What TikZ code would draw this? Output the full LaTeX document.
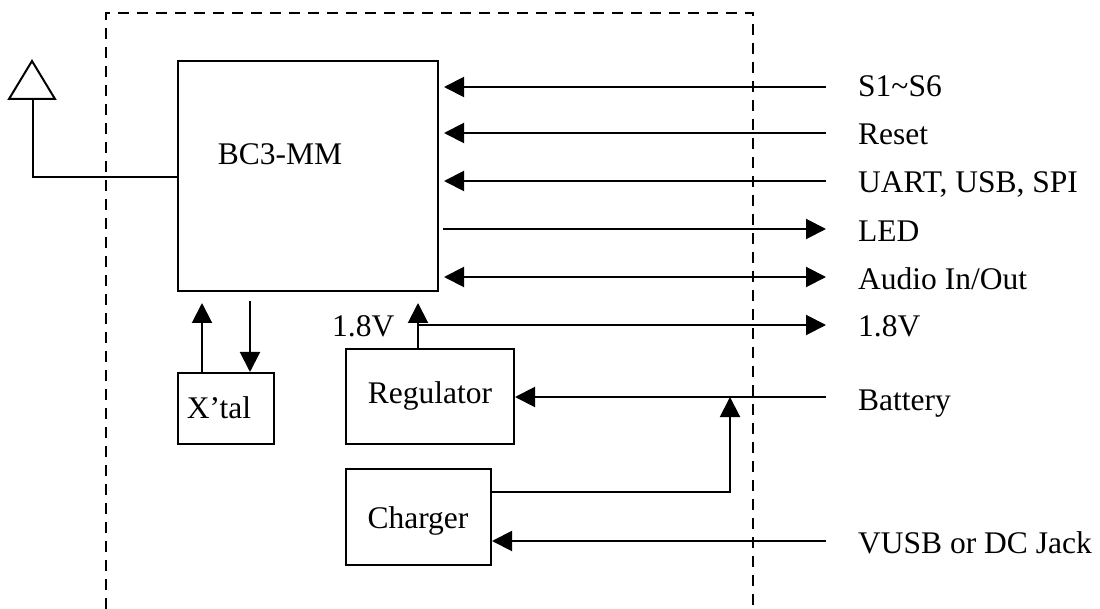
\documentclass[tikz,border=0pt]{standalone}
\usepackage{fontspec}
\setmainfont{Liberation Serif}
\usetikzlibrary{arrows.meta}
\begin{document}
\begin{tikzpicture}[x=1pt,y=-1pt,
  ln/.style={line width=2pt},
  arr/.style={ln,-{Triangle[length=20pt,width=20pt]}},
  barr/.style={ln,{Triangle[length=20pt,width=20pt]}-{Triangle[length=20pt,width=20pt]}},
  blk/.style={draw,ln,inner sep=0pt,minimum width=#1},
  txt/.style={inner sep=0pt,font=\fontsize{31.5}{36}\selectfont},
  dashline/.style={line width=2.6pt,dash pattern=on 11pt off 8pt}]
\useasboundingbox (0,0) rectangle (1100,609);
% dashed module outline
\draw[dashline] (106,609) -- (106,13) -- (753,13) -- (753,609);
% blocks
\node[blk=260pt,minimum height=230pt] (bc3) at (308,176) {};
\node[blk=96pt,minimum height=71pt] (xtal) at (226,408.5) {};
\node[blk=168pt,minimum height=95pt] (reg) at (430,396.5) {};
\node[blk=145pt,minimum height=96pt] (chg) at (418.5,517) {};
% block texts
\node[txt,anchor=base] (bc3t) at (280,165) {BC3-MM};
\node[txt,anchor=base] (xtalt) at (219,418) {X’tal};
\node[txt,anchor=base] (regt) at (430,403) {Regulator};
\node[txt,anchor=base] (chgt) at (418,528) {Charger};
\node[txt,anchor=base west] (v18in) at (332,337) {1.8V};
% right labels
\node[txt,anchor=base west] (l1) at (858,97) {S1\char"007E S6};
\node[txt,anchor=base west] (l2) at (858,145) {Reset};
\node[txt,anchor=base west] (l3) at (858,193) {UART, USB, SPI};
\node[txt,anchor=base west] (l4) at (858,241.5) {LED};
\node[txt,anchor=base west] (l5) at (858,290) {Audio In/Out};
\node[txt,anchor=base west] (l6) at (858,337) {1.8V};
\node[txt,anchor=base west] (l7) at (858,410) {Battery};
\node[txt,anchor=base west] (l8) at (858,553) {VUSB or DC Jack};
% line ends
\coordinate (e1) at (826,87);
\coordinate (e2) at (826,133);
\coordinate (e3) at (826,181);
\coordinate (e4) at (826,229);
\coordinate (e5) at (826,277);
\coordinate (e6) at (826,325);
\coordinate (e7) at (826,397);
\coordinate (e8) at (826,541);
\coordinate (v18) at (418,325);
\coordinate (junc) at (730,397);
\coordinate (cy) at (0,492);
\coordinate (xu) at (202,0);
\coordinate (xd) at (250,0);
% antenna
\coordinate (antA) at (32,61);
\coordinate (antL) at (9,99);
\coordinate (antR) at (55,99);
\coordinate (antB) at (33,100);
\coordinate (antC) at (33,177);
\draw[ln] (antL) -- (antA) -- (antR) -- cycle;
\draw[ln] (antB) -- (antC) -- (antC -| bc3.west);
% signal arrows
\draw[arr,shorten >=5pt] (e1) -- (e1 -| bc3.east);
\draw[arr,shorten >=5pt] (e2) -- (e2 -| bc3.east);
\draw[arr,shorten >=5pt] (e3) -- (e3 -| bc3.east);
\draw[arr,shorten <=4pt] (e4 -| bc3.east) -- (e4);
\draw[barr,shorten <=5pt] (e5 -| bc3.east) -- (e5);
% power
\draw[arr,shorten >=11pt] (v18 |- reg.north) -- (v18 |- bc3.south);
\draw[arr] (v18) -- (e6);
\draw[arr] (e7) -- (reg.east |- e7);
\draw[arr] (chg.east |- cy) -- (junc |- cy) -- (junc);
\draw[arr] (e8) -- (chg.east |- e8);
% crystal
\draw[arr,shorten >=11pt] (xu |- xtal.north) -- (xu |- bc3.south);
\draw[arr,shorten <=9pt] (xd |- bc3.south) -- (xd |- xtal.north);
\end{tikzpicture}
\end{document}
